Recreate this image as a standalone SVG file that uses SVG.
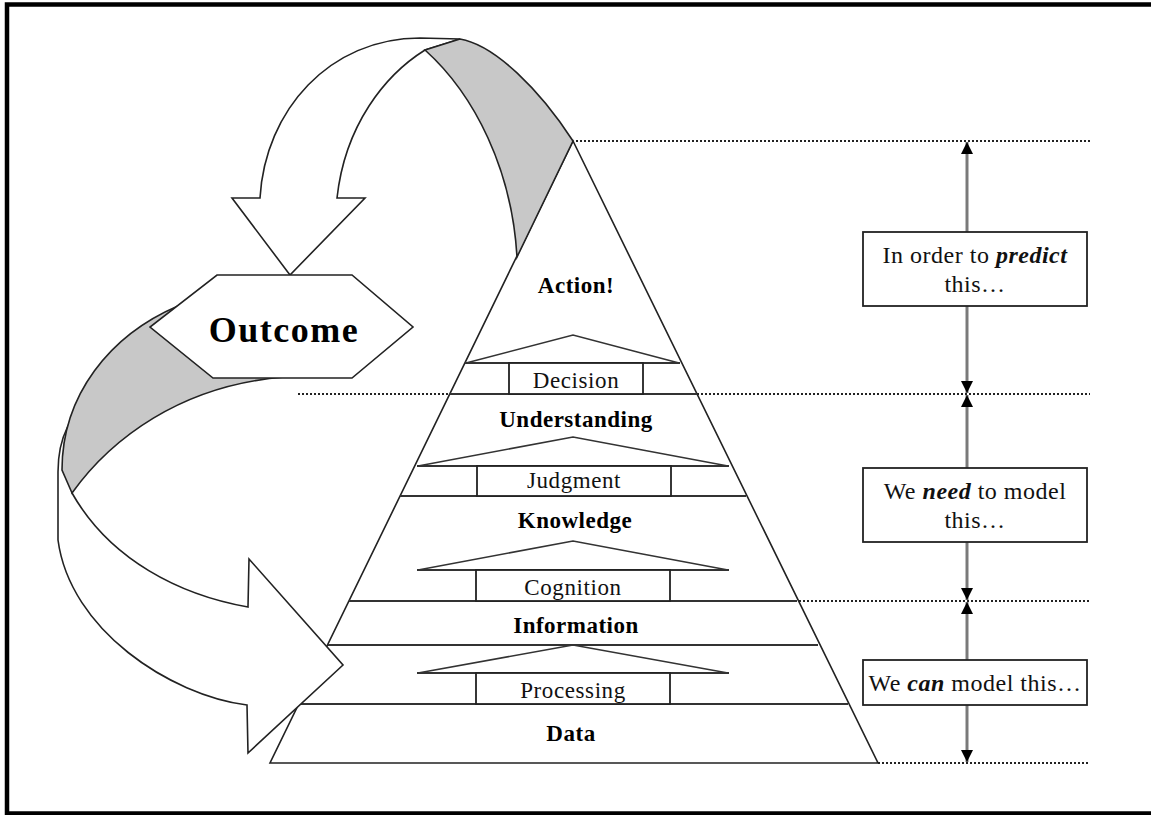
<svg xmlns="http://www.w3.org/2000/svg" width="1151" height="815" viewBox="0 0 1151 815">
<style>
.frame{fill:none;stroke:#000;stroke-width:4.5}
.edge{fill:#fff;stroke:#222;stroke-width:1.6;stroke-linejoin:miter}
.hl{stroke:#333;stroke-width:2;fill:none}
.roof{fill:none;stroke:#333;stroke-width:1.6}
.box{fill:#fff;stroke:#222;stroke-width:1.8}
.wf{fill:#fff;stroke:#222;stroke-width:1.6;stroke-linejoin:miter}
.gf{fill:#c8c8c8;stroke:#222;stroke-width:1.6;stroke-linejoin:miter}
.dot{stroke:#222;stroke-width:2;stroke-dasharray:2 2;fill:none}
.vl{stroke:#7a7a7a;stroke-width:3;fill:none}
.lbl{font-family:"Liberation Serif","Times New Roman",serif;font-size:23px;font-weight:bold;text-anchor:middle;fill:#000;letter-spacing:0.5px}
.sub{font-family:"Liberation Serif","Times New Roman",serif;font-size:23px;text-anchor:middle;fill:#111;letter-spacing:0.6px}
.note{font-family:"Liberation Serif","Times New Roman",serif;font-size:24px;text-anchor:middle;fill:#111;letter-spacing:0.5px}
.em{font-weight:bold;font-style:italic}
.big{font-family:"Liberation Serif","Times New Roman",serif;font-size:36px;font-weight:bold;text-anchor:middle;fill:#000;letter-spacing:1.5px}
</style>
<defs>
<marker id="ah" markerWidth="12" markerHeight="12" refX="12" refY="6" orient="auto" markerUnits="userSpaceOnUse"><path d="M0,0 L12,6 L0,12 Z" fill="#000"/></marker>
</defs>
<rect width="1151" height="815" fill="#fff"/>
<rect class="frame" x="7" y="4.5" width="1160" height="809"/>

<g id="guides">
<line class="dot" x1="576" y1="141" x2="1090" y2="141"/>
<line class="dot" x1="298" y1="394" x2="449" y2="394"/>
<line class="dot" x1="697" y1="394" x2="1090" y2="394"/>
<line class="dot" x1="799" y1="601" x2="1090" y2="601"/>
<line class="dot" x1="878" y1="763" x2="1090" y2="763"/>
</g>

<g id="pyramid">
<polygon class="edge" points="573,141 270,763 878,763"/>
<line class="hl" x1="465" y1="363" x2="680" y2="363"/>
<line class="hl" x1="450" y1="394" x2="697" y2="394"/>
<line class="hl" x1="417" y1="466" x2="729" y2="466"/>
<line class="hl" x1="400" y1="496" x2="746" y2="496"/>
<line class="hl" x1="417" y1="570" x2="729" y2="570"/>
<line class="hl" x1="349" y1="601" x2="797" y2="601"/>
<line class="hl" x1="328" y1="645" x2="818" y2="645"/>
<line class="hl" x1="417" y1="673" x2="729" y2="673"/>
<line class="hl" x1="300" y1="704" x2="848" y2="704"/>
<text class="lbl" x="576" y="293">Action!</text>
<text class="lbl" x="576" y="427">Understanding</text>
<text class="lbl" x="575" y="528">Knowledge</text>
<text class="lbl" x="576" y="633">Information</text>
<text class="lbl" x="571" y="741">Data</text>
</g>

<g id="decision">
<polyline class="roof" points="466,363 573,335 679,363"/>
<rect class="box" x="509" y="363" width="134" height="31"/>
<text class="sub" x="576" y="388">Decision</text>
</g>
<g id="judgment">
<polyline class="roof" points="418,466 573,437 728,466"/>
<rect class="box" x="477" y="466" width="194" height="30"/>
<text class="sub" x="574" y="488">Judgment</text>
</g>
<g id="cognition">
<polyline class="roof" points="418,570 573,541 728,570"/>
<rect class="box" x="476" y="570" width="194" height="31"/>
<text class="sub" x="573" y="595">Cognition</text>
</g>
<g id="processing">
<polyline class="roof" points="418,673 573,645 728,673"/>
<rect class="box" x="476" y="673" width="194" height="31"/>
<text class="sub" x="573" y="698">Processing</text>
</g>

<g id="connectors">
<g id="top-arrow">
<path class="wf" d="M260,198 C265,110 330,38 420,38 L460,39 L425,50 C385,75 345,125 337,198 L365,198 L290,275 L232,198 Z"/>
<path class="gf" d="M425,50 L460,39 C495,45 540,90 573,141 L517,257 C512,170 475,95 425,50 Z"/>
</g>
<g id="bottom-arrow">
<path class="wf" d="M67.5,427 C61,440 58,455 58,472 L58,540 C70,630 170,695 247,705 L248,753 L343,665 L249,559 L248,607 C180,595 110,560 72,493 Z"/>
<path class="gf" d="M178,306 C110,335 62,395 62,470 L72,493 C110,440 180,385 285,377 L230,340 Z"/>
</g>
<g id="scale">
<line class="vl" x1="967" y1="232" x2="967" y2="142" marker-end="url(#ah)"/>
<line class="vl" x1="967" y1="306" x2="967" y2="393" marker-end="url(#ah)"/>
<line class="vl" x1="967" y1="468" x2="967" y2="395" marker-end="url(#ah)"/>
<line class="vl" x1="967" y1="542" x2="967" y2="600" marker-end="url(#ah)"/>
<line class="vl" x1="967" y1="660" x2="967" y2="602" marker-end="url(#ah)"/>
<line class="vl" x1="967" y1="705" x2="967" y2="762" marker-end="url(#ah)"/>
</g>
</g>

<g id="outcome">
<polygon class="wf" points="217,275 352,275 413,327 352,378 213,378 150,327"/>
<text class="big" x="284" y="342">Outcome</text>
</g>

<g id="note-predict">
<rect class="box" x="863" y="232" width="224" height="74"/>
<text class="note" x="975" y="263">In order to <tspan class="em">predict</tspan></text>
<text class="note" x="975" y="292">this…</text>
</g>
<g id="note-need">
<rect class="box" x="863" y="468" width="224" height="74"/>
<text class="note" x="975" y="499">We <tspan class="em">need</tspan> to model</text>
<text class="note" x="975" y="528">this…</text>
</g>
<g id="note-can">
<rect class="box" x="863" y="660" width="224" height="45"/>
<text class="note" x="975" y="691">We <tspan class="em">can</tspan> model this…</text>
</g>
</svg>
